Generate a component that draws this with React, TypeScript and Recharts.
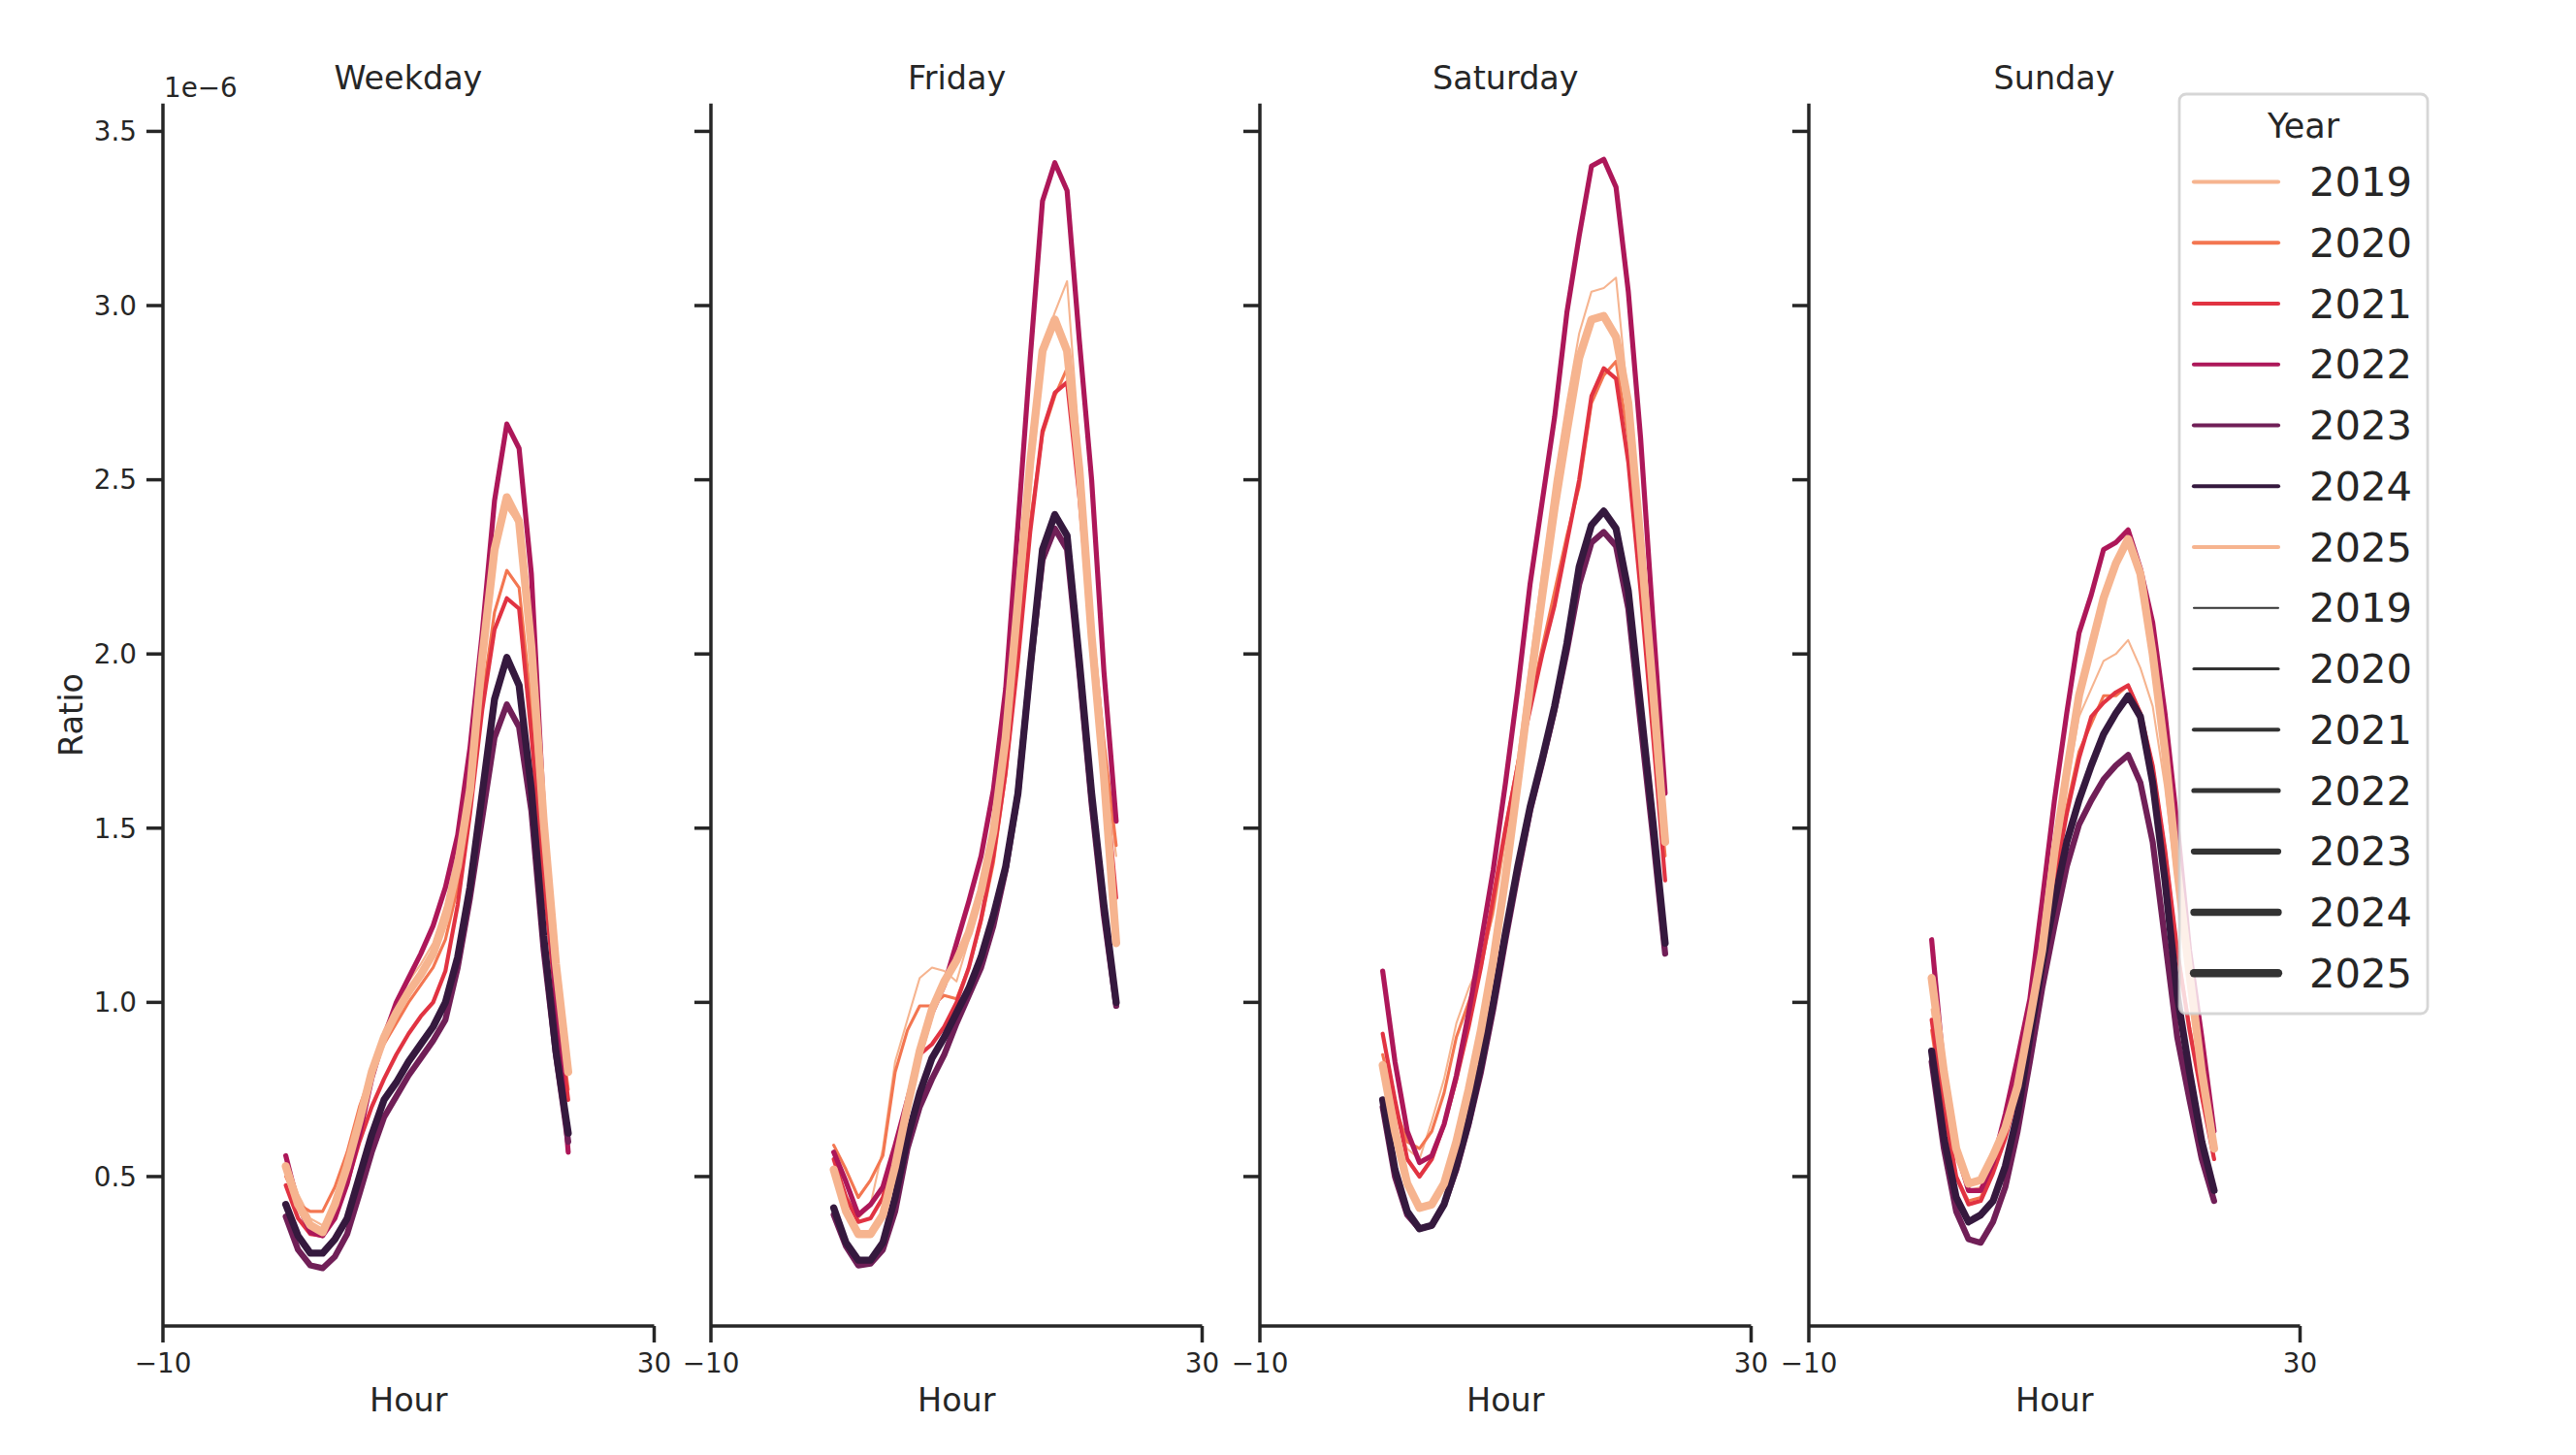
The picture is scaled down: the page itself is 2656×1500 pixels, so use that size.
import React from 'react';
import { LineChart, Line, XAxis, YAxis } from 'recharts';

// ---------- data (values in units of 1e-6) ----------
const HOURS = [0, 1, 2, 3, 4, 5, 6, 7, 8, 9, 10, 11, 12, 13, 14, 15, 16, 17, 18, 19, 20, 21, 22, 23];
const YEARS = ['2019', '2020', '2021', '2022', '2023', '2024', '2025'];
const PANELS = ['Weekday', 'Friday', 'Saturday', 'Sunday'];
const Y_TICKS = [0.5, 1.0, 1.5, 2.0, 2.5, 3.0, 3.5];
const X_TICKS = [-10, 30];

// Weekday
const wd2019 = [0.55, 0.45, 0.38, 0.36, 0.42, 0.53, 0.68, 0.81, 0.92, 1.0, 1.06, 1.11, 1.17, 1.28, 1.44, 1.66, 2.0, 2.3, 2.42, 2.37, 2.02, 1.5, 1.1, 0.8];
const wd2020 = [0.5, 0.42, 0.4, 0.4, 0.47, 0.57, 0.7, 0.8, 0.88, 0.94, 1.0, 1.05, 1.1, 1.18, 1.33, 1.56, 1.87, 2.12, 2.24, 2.19, 1.85, 1.4, 1.03, 0.75];
const wd2021 = [0.475, 0.38, 0.335, 0.33, 0.385, 0.48, 0.6, 0.7, 0.78, 0.85, 0.91, 0.96, 1.0, 1.09, 1.28, 1.54, 1.84, 2.07, 2.16, 2.13, 1.77, 1.35, 1.0, 0.72];
const wd2022 = [0.56, 0.42, 0.34, 0.33, 0.38, 0.48, 0.62, 0.78, 0.9, 1.0, 1.07, 1.14, 1.22, 1.33, 1.48, 1.73, 2.06, 2.44, 2.66, 2.59, 2.23, 1.55, 1.0, 0.57];
const wd2023 = [0.385, 0.29, 0.245, 0.237, 0.27, 0.335, 0.45, 0.57, 0.67, 0.73, 0.79, 0.84, 0.89, 0.95, 1.1, 1.3, 1.53, 1.76, 1.855, 1.79, 1.55, 1.15, 0.85, 0.6];
const wd2024 = [0.42, 0.33, 0.28, 0.28, 0.32, 0.38, 0.5, 0.62, 0.72, 0.77, 0.83, 0.88, 0.93, 1.0, 1.13, 1.33, 1.6, 1.87, 1.99, 1.91, 1.61, 1.19, 0.86, 0.625];
const wd2025 = [0.53, 0.42, 0.36, 0.34, 0.42, 0.53, 0.66, 0.8, 0.9, 0.97, 1.03, 1.08, 1.14, 1.24, 1.39, 1.61, 1.99, 2.3, 2.45, 2.38, 2.02, 1.52, 1.11, 0.8];

// Friday
const fr2019 = [0.55, 0.45, 0.38, 0.42, 0.58, 0.83, 0.95, 1.07, 1.1, 1.09, 1.06, 1.18, 1.3, 1.48, 1.75, 2.15, 2.58, 2.88, 2.98, 3.07, 2.6, 2.1, 1.7, 1.42];
const fr2020 = [0.59, 0.52, 0.44, 0.49, 0.56, 0.8, 0.92, 0.99, 0.99, 1.02, 1.01, 1.1, 1.23, 1.4, 1.65, 2.0, 2.38, 2.63, 2.74, 2.82, 2.5, 2.1, 1.75, 1.45];
const fr2021 = [0.55, 0.44, 0.37, 0.38, 0.44, 0.58, 0.72, 0.85, 0.88, 0.93, 1.0, 1.1, 1.24, 1.42, 1.66, 1.98, 2.35, 2.64, 2.75, 2.78, 2.45, 2.05, 1.68, 1.3];
const fr2022 = [0.57, 0.485, 0.39, 0.42, 0.47, 0.59, 0.72, 0.85, 0.97, 1.05, 1.17, 1.29, 1.42, 1.61, 1.9, 2.37, 2.85, 3.3, 3.41, 3.33, 2.9, 2.5, 1.95, 1.52];
const fr2023 = [0.39, 0.3, 0.245, 0.25, 0.29, 0.4, 0.58, 0.7, 0.78, 0.85, 0.94, 1.02, 1.1, 1.22, 1.38, 1.6, 1.96, 2.27, 2.36, 2.3, 1.95, 1.57, 1.25, 0.99];
const fr2024 = [0.41, 0.31, 0.26, 0.26, 0.31, 0.44, 0.61, 0.74, 0.84, 0.9, 0.97, 1.04, 1.13, 1.25, 1.39, 1.6, 1.96, 2.3, 2.4, 2.34, 1.98, 1.6, 1.28, 1.0];
const fr2025 = [0.52, 0.4, 0.335, 0.335, 0.39, 0.53, 0.7, 0.86, 0.98, 1.06, 1.12, 1.2, 1.32, 1.49, 1.76, 2.15, 2.55, 2.87, 2.96, 2.87, 2.53, 2.05, 1.65, 1.17];

// Saturday
const sa2019 = [0.8, 0.68, 0.58, 0.55, 0.66, 0.78, 0.94, 1.04, 1.12, 1.25, 1.46, 1.7, 1.97, 2.24, 2.5, 2.72, 2.92, 3.04, 3.05, 3.08, 2.72, 2.3, 1.88, 1.47];
const sa2020 = [0.85, 0.7, 0.6, 0.58, 0.63, 0.74, 0.9, 1.0, 1.1, 1.27, 1.5, 1.69, 1.86, 2.02, 2.18, 2.34, 2.48, 2.72, 2.8, 2.84, 2.62, 2.22, 1.8, 1.42];
const sa2021 = [0.91, 0.72, 0.55, 0.5, 0.55, 0.65, 0.78, 0.93, 1.1, 1.3, 1.5, 1.68, 1.84, 2.0, 2.14, 2.32, 2.5, 2.74, 2.82, 2.79, 2.55, 2.18, 1.77, 1.35];
const sa2022 = [1.09, 0.83, 0.63, 0.54, 0.56, 0.65, 0.79, 0.97, 1.17, 1.38, 1.63, 1.9, 2.2, 2.44, 2.68, 2.98, 3.2, 3.4, 3.42, 3.34, 3.04, 2.62, 2.1, 1.6];
const sa2023 = [0.7, 0.5, 0.39, 0.35, 0.36, 0.42, 0.52, 0.65, 0.8, 0.98, 1.18, 1.37, 1.55, 1.69, 1.84, 2.01, 2.2, 2.32, 2.35, 2.31, 2.13, 1.8, 1.48, 1.14];
const sa2024 = [0.72, 0.52, 0.4, 0.35, 0.36, 0.42, 0.53, 0.66, 0.82, 1.0, 1.2, 1.39, 1.56, 1.7, 1.85, 2.03, 2.25, 2.37, 2.41, 2.36, 2.18, 1.85, 1.52, 1.17];
const sa2025 = [0.82, 0.63, 0.48, 0.41, 0.42, 0.48, 0.6, 0.75, 0.92, 1.12, 1.36, 1.63, 1.91, 2.17, 2.42, 2.64, 2.85, 2.96, 2.97, 2.91, 2.72, 2.32, 1.9, 1.46];

// Sunday
const su2019 = [0.98, 0.72, 0.55, 0.46, 0.47, 0.55, 0.64, 0.76, 0.95, 1.15, 1.4, 1.62, 1.82, 1.9, 1.98, 2.0, 2.04, 1.96, 1.85, 1.62, 1.32, 1.05, 0.8, 0.58];
const su2020 = [0.92, 0.68, 0.5, 0.43, 0.44, 0.52, 0.62, 0.75, 0.93, 1.12, 1.36, 1.56, 1.72, 1.8, 1.88, 1.88, 1.91, 1.83, 1.68, 1.44, 1.15, 0.93, 0.74, 0.55];
const su2021 = [0.95, 0.7, 0.5, 0.42, 0.43, 0.51, 0.61, 0.74, 0.92, 1.12, 1.35, 1.54, 1.7, 1.82, 1.86, 1.89, 1.91, 1.83, 1.68, 1.44, 1.15, 0.92, 0.73, 0.55];
const su2022 = [1.18, 0.8, 0.58, 0.46, 0.46, 0.54, 0.68, 0.84, 1.01, 1.29, 1.58, 1.83, 2.06, 2.17, 2.3, 2.32, 2.356, 2.245, 2.09, 1.83, 1.51, 1.15, 0.9, 0.63];
const su2023 = [0.83, 0.58, 0.4, 0.32, 0.31, 0.37, 0.47, 0.63, 0.83, 1.04, 1.22, 1.39, 1.51, 1.58, 1.64, 1.68, 1.71, 1.63, 1.46, 1.18, 0.9, 0.72, 0.55, 0.43];
const su2024 = [0.86, 0.61, 0.44, 0.37, 0.39, 0.43, 0.53, 0.68, 0.9, 1.11, 1.29, 1.46, 1.58, 1.68, 1.77, 1.83, 1.88, 1.82, 1.63, 1.35, 1.02, 0.8, 0.6, 0.46];
const su2025 = [1.07, 0.8, 0.58, 0.48, 0.49, 0.56, 0.64, 0.76, 0.95, 1.15, 1.43, 1.66, 1.88, 2.02, 2.16, 2.26, 2.33, 2.23, 2.0, 1.72, 1.38, 1.08, 0.8, 0.58];

const PANEL_SERIES: number[][][] = [
  [wd2019, wd2020, wd2021, wd2022, wd2023, wd2024, wd2025],
  [fr2019, fr2020, fr2021, fr2022, fr2023, fr2024, fr2025],
  [sa2019, sa2020, sa2021, sa2022, sa2023, sa2024, sa2025],
  [su2019, su2020, su2021, su2022, su2023, su2024, su2025],
];

// ---------- style ----------
const COLORS = ['#f6b48f', '#f37651', '#e13342', '#ad1759', '#701f57', '#35193e', '#f6b48f'];
const WIDTHS = [2.08, 3.12, 4.17, 5.2, 6.25, 7.3, 8.33];
const TEXT = '#262626';
const FONT = 'DejaVu Sans, sans-serif';

const PLOT_LEFT0 = 167.7;
const PANEL_STEP = 565.7;
const PLOT_W = 506.5;
const PLOT_TOP = 106.7;
const PLOT_BOTTOM = 1367;
const H = 1500;
const YW = 140;
const RM = 40;
const Y_DOMAIN: [number, number] = [0.0711, 3.58];

function buildRows(series: number[][]) {
  return HOURS.map((h, i) => {
    const row: Record<string, number> = { hour: h };
    YEARS.forEach((y, k) => {
      row['y' + y] = series[k][i];
    });
    return row;
  });
}

const Panel = ({ index }: { index: number }) => {
  const rows = buildRows(PANEL_SERIES[index]);
  const left = PLOT_LEFT0 + index * PANEL_STEP - YW;
  const width = YW + PLOT_W + RM;
  const axisStyle = { stroke: TEXT, strokeWidth: 3.5 };
  const tickStyle = { stroke: TEXT, strokeWidth: 3.5 };
  return (
    <div style={{ position: 'absolute', left, top: 0, width, height: H }}>
      <LineChart width={width} height={H} data={rows} margin={{ top: PLOT_TOP, right: RM, bottom: 0, left: 0 }}>
        <XAxis
          dataKey="hour"
          type="number"
          domain={[-10, 30]}
          ticks={X_TICKS}
          interval={0}
          allowDataOverflow
          height={H - PLOT_BOTTOM}
          tickSize={17}
          tickMargin={11}
          axisLine={axisStyle}
          tickLine={tickStyle}
          tick={{ fontSize: 27.8, fill: TEXT, fontFamily: FONT }}
          tickFormatter={(v: number) => (v < 0 ? '\u2212' + Math.abs(v) : String(v))}
          label={{
            content: () => (
              <text x={YW + PLOT_W / 2} y={1455} textAnchor="middle" fontSize={33.4} fill={TEXT} fontFamily={FONT}>
                Hour
              </text>
            ),
          }}
        />
        <YAxis
          type="number"
          domain={Y_DOMAIN}
          ticks={Y_TICKS}
          interval={0}
          allowDataOverflow
          width={YW}
          tickSize={17}
          tickMargin={10}
          axisLine={axisStyle}
          tickLine={tickStyle}
          tick={index === 0 ? { fontSize: 27.8, fill: TEXT, fontFamily: FONT } : () => <g />}
          tickFormatter={(v: number) => v.toFixed(1)}
          label={
            index === 0
              ? {
                  content: () => (
                    <text
                      x={85 - left}
                      y={737}
                      transform={`rotate(-90, ${85 - left}, 737)`}
                      textAnchor="middle"
                      fontSize={33.4}
                      fill={TEXT}
                      fontFamily={FONT}
                    >
                      Ratio
                    </text>
                  ),
                }
              : undefined
          }
        />
        {YEARS.map((y, k) => (
          <Line
            key={y}
            type="linear"
            dataKey={'y' + y}
            stroke={COLORS[k]}
            strokeWidth={WIDTHS[k]}
            strokeLinejoin="round"
            strokeLinecap="round"
            dot={false}
            activeDot={false}
            isAnimationActive={false}
          />
        ))}
      </LineChart>
    </div>
  );
};

const LEG_X = 2247;
const LEG_Y = 97;
const LEG_W = 256;
const LEG_H = 948;
const ROW0 = 202;
const ROW_STEP = 62.75;

const LegendBox = () => {
  const hueRows = YEARS.map((y, k) => ({ label: y, color: COLORS[k], width: 4.2 }));
  const sizeRows = YEARS.map((y, k) => ({ label: y, color: '#333333', width: WIDTHS[k] }));
  const rows = [...hueRows, ...sizeRows];
  return (
    <svg width={2656} height={H} style={{ position: 'absolute', left: 0, top: 0, pointerEvents: 'none' }}>
      <rect
        x={LEG_X}
        y={LEG_Y}
        width={LEG_W}
        height={LEG_H}
        rx={7}
        ry={7}
        fill="#ffffff"
        fillOpacity={0.8}
        stroke="#cccccc"
        strokeOpacity={0.8}
        strokeWidth={2.8}
      />
      <text x={LEG_X + LEG_W / 2} y={142} textAnchor="middle" fontSize={35} fill={TEXT} fontFamily={FONT}>
        Year
      </text>
      {rows.map((r, i) => {
        const base = ROW0 + i * ROW_STEP;
        const cy = base - 14.5;
        return (
          <g key={i}>
            <line x1={2262} x2={2349} y1={cy} y2={cy} stroke={r.color} strokeWidth={r.width} strokeLinecap="round" />
            <text x={2381} y={base} fontSize={41.7} fill={TEXT} fontFamily={FONT}>
              {r.label}
            </text>
          </g>
        );
      })}
    </svg>
  );
};

const Titles = () => (
  <svg width={2656} height={H} style={{ position: 'absolute', left: 0, top: 0, pointerEvents: 'none' }}>
    {PANELS.map((p, i) => (
      <text
        key={p}
        x={PLOT_LEFT0 + i * PANEL_STEP + PLOT_W / 2}
        y={92}
        textAnchor="middle"
        fontSize={33.4}
        fill={TEXT}
        fontFamily={FONT}
      >
        {p}
      </text>
    ))}
    <text x={169} y={100} fontSize={27.8} fill={TEXT} fontFamily={FONT}>
      1e{'\u2212'}6
    </text>
  </svg>
);

export default function App() {
  return (
    <div style={{ position: 'absolute', left: 0, top: 0, width: 2656, height: H, background: '#ffffff', fontFamily: FONT }}>
      {PANELS.map((p, i) => (
        <Panel key={p} index={i} />
      ))}
      <Titles />
      <LegendBox />
    </div>
  );
}
